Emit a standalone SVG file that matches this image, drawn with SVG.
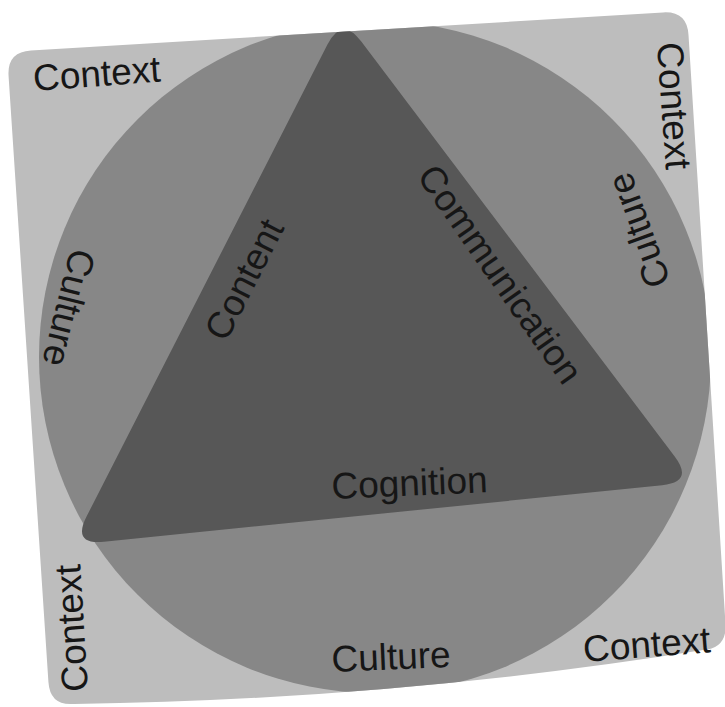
<svg xmlns="http://www.w3.org/2000/svg" width="725" height="707" viewBox="0 0 725 707">
<defs>
<style>
.lbl{font-family:"Liberation Sans","Roboto",sans-serif;font-size:37px;fill:#161616;}
</style>
<clipPath id="sq">
<path d="M30.95,50.56 L663.05,12.44 Q687,11 688.5,34.95 L725.5,624.05 Q727,648 703.09,650.05 Q390,700 73.91,703.95 Q50,706 48.43,682.05 L8.57,75.95 Q7,52 30.95,50.56 Z"/>
</clipPath>
</defs>
<rect width="725" height="707" fill="#ffffff"/>
<g id="context-square">
<path d="M30.95,50.56 L663.05,12.44 Q687,11 688.5,34.95 L725.5,624.05 Q727,648 703.09,650.05 Q390,700 73.91,703.95 Q50,706 48.43,682.05 L8.57,75.95 Q7,52 30.95,50.56 Z" fill="#bdbdbd"/>
</g>
<g id="culture-circle" clip-path="url(#sq)">
<circle cx="375" cy="357" r="336" fill="#878787"/>
</g>
<g id="triangle" clip-path="url(#sq)">
<path d="M327.45,44.50 L86.55,516.50 Q72,545 103.84,541.77 L662.16,485.23 Q694,482 674.71,456.47 L361.29,41.53 Q342,16 327.45,44.50 Z" fill="#575757"/>
</g>
<g id="connectors"></g>
<g id="labels">
<text class="lbl" x="34" y="91" transform="rotate(-4.3 34 91)">Context</text>
<text class="lbl" x="657" y="43" transform="rotate(86 657 43)">Context</text>
<text class="lbl" x="88" y="691" transform="rotate(-93.5 88 691)">Context</text>
<text class="lbl" x="584" y="662" transform="rotate(-4.4 584 662)">Context</text>
<text class="lbl" x="332" y="672" transform="rotate(-2.5 332 672)">Culture</text>
<text class="lbl" x="71" y="247" transform="rotate(104 71 247)">Culture</text>
<text class="lbl" x="671" y="282" transform="rotate(-110 671 282)">Culture</text>
<text class="lbl" x="226" y="343" transform="rotate(-63 226 343)">Content</text>
<text class="lbl" x="416" y="176" transform="rotate(55 416 176)">Communication</text>
<text class="lbl" x="332" y="499" transform="rotate(-2.5 332 499)">Cognition</text>
</g>
</svg>
